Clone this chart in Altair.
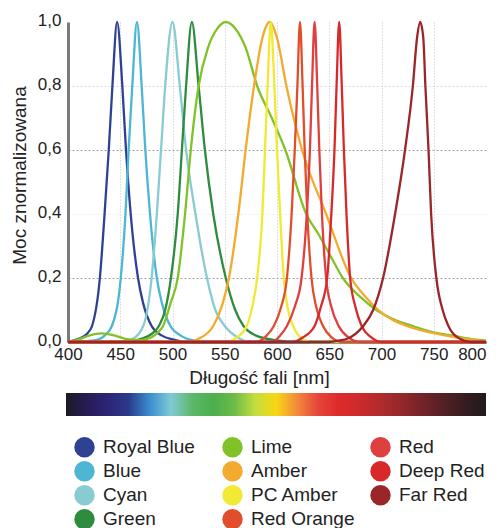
import altair as alt
import pandas as pd

# ---- axis ticks ----
x_ticks = [400, 450, 500, 550, 600, 650, 700, 750, 800]
y_ticks = [0.0, 0.2, 0.4, 0.6, 0.8, 1.0]

# ---- series ----
series_names = ["Royal Blue", "Blue", "Cyan", "Green", "Lime", "Amber",
                "PC Amber", "Red Orange", "Red", "Deep Red", "Far Red"]
series_colors = ["#2f4193", "#4db6d4", "#88cbd1", "#2f8c3f", "#80c228", "#f3aa2e",
                 "#f1e933", "#e14e2b", "#e03f40", "#d8292a", "#9b2629"]

royal_blue_nm = [400, 410, 418, 423, 430.5, 435, 439, 442.5, 447, 452, 455.5, 460, 467, 472, 480, 490, 500, 515, 800]
royal_blue_val = [0, 0.01, 0.025, 0.05, 0.2, 0.4, 0.6, 0.8, 1.0, 0.8, 0.6, 0.4, 0.2, 0.12, 0.05, 0.02, 0.008, 0, 0]

blue_nm = [400, 425, 435, 442, 450.5, 455, 458, 461.5, 466, 470.5, 474, 478.5, 485, 490, 498, 508, 520, 535, 800]
blue_val = [0, 0.005, 0.02, 0.05, 0.2, 0.4, 0.6, 0.8, 1.0, 0.8, 0.6, 0.4, 0.2, 0.12, 0.05, 0.02, 0.005, 0, 0]

cyan_nm = [400, 450, 462, 472, 480, 485, 489, 493, 500, 507, 513, 522, 533, 541, 550, 562, 575, 800]
cyan_val = [0, 0, 0.01, 0.05, 0.2, 0.4, 0.6, 0.8, 1.0, 0.8, 0.6, 0.4, 0.2, 0.1, 0.05, 0.015, 0, 0]

green_nm = [400, 455, 470, 480, 487, 493, 498.5, 505, 509, 513, 518.5, 525, 531, 539, 551, 560, 568, 580, 600, 620, 800]
green_val = [0, 0, 0.01, 0.025, 0.05, 0.1, 0.2, 0.4, 0.6, 0.8, 1.0, 0.8, 0.6, 0.4, 0.2, 0.1, 0.05, 0.02, 0.005, 0, 0]

lime_nm = [400, 410, 420, 432, 445, 458, 470, 480, 486, 491, 498, 505, 512, 517.5, 525, 534, 543, 551,
           560, 570, 581, 595, 608, 628, 640, 651, 663, 680, 695, 712, 730, 750, 768, 785, 800]
lime_val = [0, 0.008, 0.02, 0.027, 0.02, 0.008, 0.006, 0.015, 0.03, 0.05, 0.12, 0.2, 0.4, 0.6, 0.8, 0.92, 0.98, 1.0,
            0.98, 0.92, 0.8, 0.7, 0.6, 0.4, 0.335, 0.27, 0.2, 0.14, 0.1, 0.07, 0.05, 0.03, 0.02, 0.01, 0.004]

amber_nm = [400, 515, 525, 539, 548, 554, 563, 570, 578, 586, 593, 600, 609, 624, 647, 671, 685, 697, 710, 724, 742, 762, 780, 795, 800]
amber_val = [0, 0, 0.01, 0.05, 0.12, 0.2, 0.4, 0.6, 0.8, 0.95, 1.0, 0.95, 0.8, 0.6, 0.4, 0.2, 0.14, 0.1, 0.07, 0.05, 0.033, 0.02, 0.01, 0.003, 0]

pc_amber_nm = [400, 550, 562, 571, 577, 581, 586, 588.5, 591, 594, 597.5, 600, 603, 606.5, 610, 615.5, 622, 632, 800]
pc_amber_val = [0, 0, 0.015, 0.05, 0.12, 0.2, 0.4, 0.6, 0.8, 1.0, 0.8, 0.6, 0.4, 0.2, 0.11, 0.05, 0.015, 0, 0]

red_orange_nm = [400, 580, 590, 597, 604, 609.5, 614, 617, 619.5, 622, 624.5, 626.5, 629, 633, 637.5, 644, 652, 662, 800]
red_orange_val = [0, 0, 0.02, 0.05, 0.11, 0.2, 0.4, 0.6, 0.8, 1.0, 0.8, 0.6, 0.4, 0.2, 0.11, 0.05, 0.015, 0, 0]

red_nm = [400, 595, 603, 609.5, 617, 623.5, 628.5, 631.5, 633.5, 636, 638.5, 640.5, 643, 647, 652, 659, 668, 680, 800]
red_val = [0, 0, 0.02, 0.05, 0.11, 0.2, 0.4, 0.6, 0.8, 1.0, 0.8, 0.6, 0.4, 0.2, 0.11, 0.05, 0.015, 0, 0]

deep_red_nm = [400, 615, 625, 636, 642, 648, 652, 655, 657, 659.5, 662, 664, 666.5, 670, 675, 681, 690, 700, 800]
deep_red_val = [0, 0, 0.015, 0.05, 0.11, 0.2, 0.4, 0.6, 0.8, 1.0, 0.8, 0.6, 0.4, 0.2, 0.11, 0.05, 0.015, 0, 0]

far_red_nm = [400, 650, 660, 667, 682.5, 692, 701.5, 713, 722.5, 730, 734, 737, 740, 742, 745, 747.5, 752.5, 758.5, 764, 775, 785, 800]
far_red_val = [0, 0, 0.005, 0.01, 0.05, 0.1, 0.2, 0.4, 0.6, 0.8, 0.95, 1.0, 0.95, 0.8, 0.6, 0.4, 0.2, 0.1, 0.05, 0.01, 0, 0]

# ---- spectrum colour bar ----
spectrum_nm = [400, 420, 440, 460, 480, 500, 520, 540, 560, 580, 600,
               620, 640, 660, 680, 700, 720, 740, 760, 780, 800]
spectrum_colors = ["#1c1a26", "#271c55", "#2d2478", "#2c3b8d", "#3a8fd0", "#80cad6", "#5db86a",
                   "#4aae4c", "#6cbb48", "#c4dc40", "#f7d814", "#f28a3c", "#e5443a", "#df2a2c",
                   "#cc2a2c", "#b02a2c", "#93272b", "#72232a", "#522024", "#351c20", "#201a1c"]

all_nm = [royal_blue_nm, blue_nm, cyan_nm, green_nm, lime_nm, amber_nm,
          pc_amber_nm, red_orange_nm, red_nm, deep_red_nm, far_red_nm]
all_val = [royal_blue_val, blue_val, cyan_val, green_val, lime_val, amber_val,
           pc_amber_val, red_orange_val, red_val, deep_red_val, far_red_val]

rows = []
for name, nms, vals in zip(series_names, all_nm, all_val):
    for n, v in zip(nms, vals):
        rows.append({"series": name, "nm": n, "value": v})
df = pd.DataFrame(rows)

FONT = "Liberation Sans"
TXT = "#222222"

x_enc = alt.X(
    "nm:Q",
    scale=alt.Scale(domain=[400, 800], nice=False, zero=False),
    axis=alt.Axis(
        values=x_ticks, title="Długość fali [nm]", titleFontSize=19, titleFontWeight="normal",
        titleColor=TXT, titleFont=FONT, titleX=191, titleY=35, titleBaseline="middle", titleAlign="center",
        labelFontSize=17, labelColor=TXT, labelFont=FONT, labelPadding=4, labelFlush=False,
        labelAlign={"condition": {"test": "datum.value == 800", "value": "right"}, "value": "center"},
        labelOverlap=False, ticks=False, domainColor="#111111", domainWidth=2,
        grid=True, gridDash=[1, 2], gridWidth=1,
        gridColor={"condition": {"test": "datum.value == 400 || datum.value == 800", "value": "rgba(0,0,0,0)"},
                   "value": "#c4c4c4"},
    ),
)
y_enc = alt.Y(
    "value:Q",
    scale=alt.Scale(domain=[0, 1], nice=False),
    axis=alt.Axis(
        values=y_ticks, labelExpr="replace(format(datum.value, '.1f'), '.', ',')",
        title="Moc znormalizowana", titleFontSize=19, titleFontWeight="normal", titleColor=TXT,
        titleFont=FONT, titleX=-49, titleY=153, titleBaseline="middle", titleAlign="center",
        labelFontSize=17, labelColor=TXT, labelFont=FONT, labelPadding=7, labelOffset=-2, ticks=False,
        domainColor="#7a7a7a", domainWidth=3, grid=True, gridDash=[2, 2], gridWidth=1,
        gridColor={"condition": [
            {"test": "datum.value == 0.6 || datum.value == 0.2", "value": "#a0a0a0"},
            {"test": "datum.value == 0.8", "value": "#dadada"},
            {"test": "datum.value == 0.4", "value": "#efefef"}],
            "value": "rgba(0,0,0,0)"},
    ),
)

lines = alt.Chart(df).mark_line(interpolate="monotone", strokeWidth=2.3).encode(
    x=x_enc,
    y=y_enc,
    stroke=alt.Stroke("series:N", scale=alt.Scale(domain=series_names, range=series_colors), legend=None),
)

symbol_legend = alt.Chart(df).transform_filter("false").mark_circle(opacity=1).encode(
    fill=alt.Fill(
        "series:N",
        scale=alt.Scale(domain=series_names, range=series_colors),
        legend=alt.Legend(
            title=None, orient="none", legendX=6, legendY=414.7, columns=3, gridAlign="all",
            symbolType="circle", symbolSize=420, symbolStrokeWidth=0, symbolOpacity=1,
            labelFontSize=19, labelFont=FONT, labelColor=TXT, labelOffset=8, labelLimit=0,
            rowPadding=3, columnPadding=15, padding=0,
        ),
    )
)

spectrum_df = pd.DataFrame({"nm": spectrum_nm})
spectrum_legend = alt.Chart(spectrum_df).transform_filter("false").mark_rect().encode(
    color=alt.Color(
        "nm:Q",
        scale=alt.Scale(domain=spectrum_nm, range=spectrum_colors, interpolate="rgb"),
        legend=alt.Legend(
            title=None, orient="none", direction="horizontal", legendX=-2, legendY=371,
            gradientLength=420, gradientThickness=23, gradientStrokeWidth=0,
            labelOpacity=0, padding=0,
        ),
    )
)

chart = alt.layer(lines, symbol_legend, spectrum_legend).resolve_scale(
    color="independent", fill="independent", stroke="independent"
).properties(
    width=418, height=320,
    autosize=alt.AutoSizeParams(type="none"),
    padding={"left": 60, "top": 14, "right": 6, "bottom": 186},
).configure(font=FONT).configure_view(stroke=None)

chart.save("out.html", embed_options={"renderer": "svg", "actions": False})
